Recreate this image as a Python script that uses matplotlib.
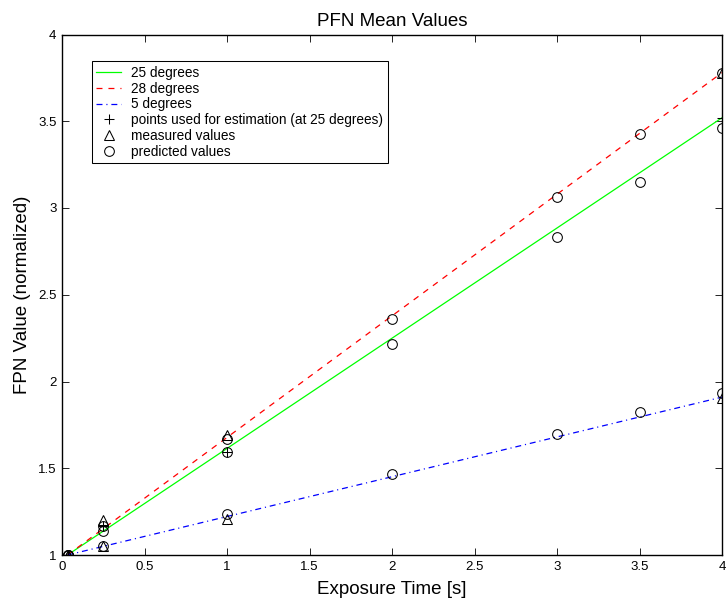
import matplotlib
matplotlib.use("Agg")
import matplotlib.pyplot as plt
from matplotlib.lines import Line2D

plt.rcParams['font.family'] = ['Liberation Sans', 'DejaVu Sans']
plt.rcParams['lines.scale_dashes'] = False

# Fitted lines (start / end)
line_x = [1/30, 4.0]
line_25 = [1.0, 3.52]
line_28 = [1.0, 3.78]
line_5 = [1.0, 1.91]

# Points used for estimation (25 degrees)
est_x = [1/30, 0.25, 1.0, 4.0]
est_y = [1.0, 1.167, 1.595, 3.52]

# Measured values
meas28_x = [1/30, 0.25, 1.0, 4.0]
meas28_y = [1.0, 1.20, 1.69, 3.78]
meas5_x = [1/30, 0.25, 1.0, 4.0]
meas5_y = [1.0, 1.052, 1.205, 1.905]

# Predicted values
pred_x = [1/30, 0.25, 1.0, 2.0, 3.0, 3.5, 4.0]
pred25_y = [1.0, 1.167, 1.595, 2.218, 2.835, 3.15, 3.461]
pred28_y = [1.0, 1.14, 1.668, 2.36, 3.063, 3.428, 3.78]
pred5_y = [1.0, 1.05, 1.235, 1.465, 1.697, 1.824, 1.935]

xticks = [0, 0.5, 1, 1.5, 2, 2.5, 3, 3.5, 4]
xticklabels = ['0', '0.5', '1', '1.5', '2', '2.5', '3', '3.5', '4']
yticks = [1, 1.5, 2, 2.5, 3, 3.5, 4]
yticklabels = ['1', '1.5', '2', '2.5', '3', '3.5', '4']

fig = plt.figure(figsize=(7.26, 6.02), dpi=100)
ax = fig.add_axes([62/726, 1 - 555/602, 660/726, 520.5/602])

lw = 0.9
ls28 = (0, (4.3, 4.3))
ls5 = (0, (4.3, 2.8, 0.8, 2.8))
ax.plot(line_x, line_25, color=(0, 1, 0), lw=lw)
ax.plot(line_x, line_28, color=(1, 0, 0), lw=lw, linestyle=ls28)
ax.plot(line_x, line_5, color=(0, 0, 1), lw=lw, linestyle=ls5)

mk = dict(linestyle='none', color='black', mfc='none', mew=0.75, markersize=7)
ax.plot(est_x, est_y, marker='+', **mk)
ax.plot(meas28_x, meas28_y, marker='^', **mk)
ax.plot(meas5_x, meas5_y, marker='^', **mk)
ax.plot(pred_x, pred25_y, marker='o', **mk)
ax.plot(pred_x, pred28_y, marker='o', **mk)
ax.plot(pred_x, pred5_y, marker='o', **mk)

ax.set_xlim(0, 4)
ax.set_ylim(1, 4)
ax.set_xticks(xticks)
ax.set_xticklabels(xticklabels)
ax.set_yticks(yticks)
ax.set_yticklabels(yticklabels)
ax.tick_params(direction='in', length=5, width=0.6, labelsize=9.5,
               top=True, right=True, pad=4)
for s in ax.spines.values():
    s.set_linewidth(1.0)

ax.set_title('PFN Mean Values', fontsize=13.5, pad=6)
ax.set_xlabel('Exposure Time [s]', fontsize=13.5, labelpad=6)
ax.set_ylabel('FPN Value (normalized)', fontsize=13.5, labelpad=5)

handles = [
    Line2D([], [], color=(0, 1, 0), lw=lw),
    Line2D([], [], color=(1, 0, 0), lw=lw, linestyle=ls28),
    Line2D([], [], color=(0, 0, 1), lw=lw, linestyle=ls5),
    Line2D([], [], marker='+', **mk),
    Line2D([], [], marker='^', **mk),
    Line2D([], [], marker='o', **mk),
]
labels = ['25 degrees', '28 degrees', '5 degrees',
          'points used for estimation (at 25 degrees)',
          'measured values', 'predicted values']
leg = ax.legend(handles, labels, loc='upper left', bbox_to_anchor=(0.045, 0.949),
                borderaxespad=0, fontsize=9.8, handlelength=1.8, handletextpad=0.75,
                labelspacing=0.13, borderpad=0.35, fancybox=False, framealpha=1,
                edgecolor='black')
leg.get_frame().set_linewidth(0.75)

fig.savefig('out.png', dpi=100)
